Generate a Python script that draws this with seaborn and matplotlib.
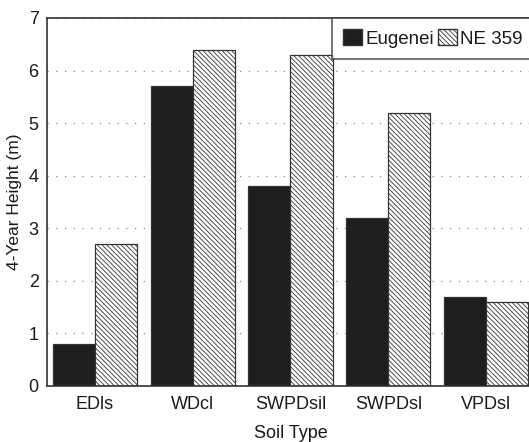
import pandas as pd
import seaborn as sns
import matplotlib.pyplot as plt
from matplotlib.patches import Patch

# data
soils = ["EDls", "WDcl", "SWPDsil", "SWPDsl", "VPDsl"]
eugenei = [0.8, 5.7, 3.8, 3.2, 1.7]
ne359 = [2.7, 6.4, 6.3, 5.2, 1.6]
clones = ["Eugenei", "NE 359"]

df = pd.DataFrame({
    "Soil Type": soils * 2,
    "Clone": [clones[0]] * len(soils) + [clones[1]] * len(soils),
    "Height": eugenei + ne359,
})

sns.set_style("white")
plt.rcParams["font.family"] = ["Liberation Sans", "DejaVu Sans"]
plt.rcParams["hatch.linewidth"] = 0.6
plt.rcParams["hatch.color"] = "#333333"

HATCH = "\\" * 7
txt = "#1a1a1a"

fig = plt.figure(figsize=(5.29, 4.42), dpi=100)
ax = fig.add_axes([47 / 529, 56 / 442, 487 / 529, 368 / 442])

sns.barplot(data=df, x="Soil Type", y="Height", hue="Clone", order=soils,
            hue_order=clones, palette=["#1e1e1e", "white"], width=0.86,
            gap=0, saturation=1, edgecolor="#333333", linewidth=0.9,
            legend=False, ax=ax, zorder=2)

# NE 359 bars get the diagonal hatch
for bar in ax.containers[1]:
    bar.set_hatch(HATCH)

ax.set_ylim(0, 7)
ax.set_xlim(-0.49, 4.49)
ax.set_yticks(range(8))
ax.yaxis.grid(True, color="#888888", linestyle=(0, (1, 6)), linewidth=0.9, zorder=0)
ax.set_axisbelow(True)
for s in ["top", "left", "bottom", "right"]:
    ax.spines[s].set_color("#333333")
    ax.spines[s].set_linewidth(1.2)
ax.tick_params(axis="y", length=0, labelsize=13, colors=txt, pad=6)
ax.tick_params(axis="x", length=0, labelsize=13, colors=txt, pad=7)
ax.set_xlabel("Soil Type", fontsize=13, color=txt, labelpad=9)
ax.set_ylabel("4-Year Height (m)", fontsize=12.5, color=txt, labelpad=5)

handles = [Patch(facecolor="#1e1e1e", edgecolor="#333333"),
           Patch(facecolor="white", edgecolor="#333333", hatch=HATCH)]
leg = ax.legend(handles, clones, loc="upper right", ncol=2, frameon=True,
                fancybox=False, edgecolor="#333333", fontsize=13.5,
                handlelength=1.0, handleheight=0.95, handletextpad=0.2,
                columnspacing=0.2, borderaxespad=0, borderpad=0.6,
                bbox_to_anchor=(1.0, 1.0))
leg.get_frame().set_linewidth(1.2)
for t in leg.get_texts():
    t.set_color(txt)

fig.savefig("out.png", dpi=100)
